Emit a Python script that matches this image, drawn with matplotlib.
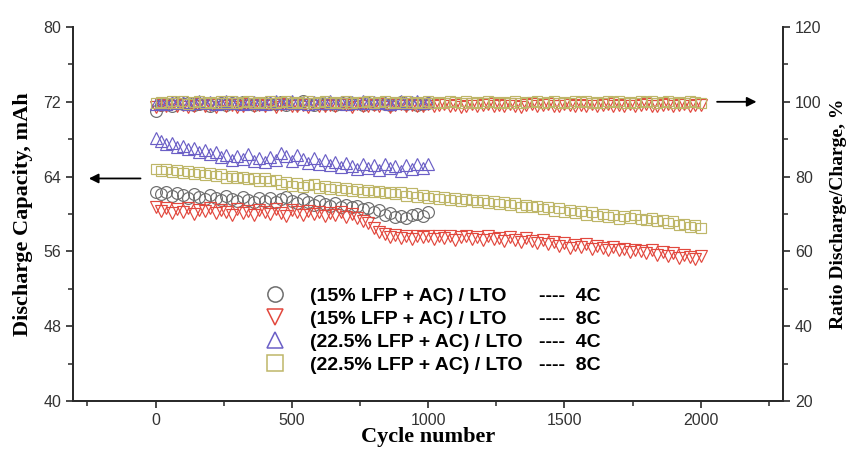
import matplotlib
matplotlib.use("Agg")
import matplotlib.pyplot as plt
import numpy as np
from matplotlib.lines import Line2D
from matplotlib.ticker import MultipleLocator

# ---- data (every 20 cycles) ----
cycles_1000 = np.arange(0, 1001, 20)
cycles_2000 = np.arange(0, 2001, 20)

cap_15_4c = [
    62.4, 62.1, 62.3, 61.9, 62.2, 62.0, 61.7, 62.1, 61.8, 61.6,
    62.0, 61.7, 61.5, 61.9, 61.6, 61.4, 61.8, 61.5, 61.3, 61.7,
    61.4, 61.7, 61.3, 61.6, 61.8, 61.4, 61.2, 61.6, 61.3, 61.0,
    61.4, 61.1, 60.9, 61.2, 60.8, 61.0, 60.7, 60.9, 60.5, 60.6,
    60.2, 60.4, 59.9, 60.1, 59.7, 59.8, 59.6, 59.9, 60.0, 59.8, 60.2,
]
cap_15_8c = [
    60.7, 60.3, 60.6, 60.1, 60.5, 60.2, 60.6, 60.0, 60.4, 60.3,
    60.6, 60.1, 60.4, 60.2, 59.9, 60.5, 60.1, 60.3, 59.9, 60.4,
    60.2, 60.0, 60.5, 60.1, 59.8, 60.4, 60.2, 59.9, 60.3, 60.0,
    60.2, 59.8, 60.1, 59.9, 60.2, 59.7, 60.0, 59.6, 59.3, 59.0,
    58.5, 58.1, 57.9, 57.5, 57.8, 57.4, 57.6, 57.3, 57.7, 57.5,
    57.6, 57.3, 57.7, 57.4, 57.6, 57.2, 57.5, 57.7, 57.3, 57.5,
    57.2, 57.6, 57.3, 57.4, 57.1, 57.5, 57.2, 57.0, 57.4, 57.1,
    56.9, 57.2, 56.8, 57.0, 56.6, 56.9, 56.4, 56.7, 56.5, 56.8,
    56.3, 56.6, 56.4, 56.2, 56.5, 56.1, 56.3, 55.9, 56.2, 56.0,
    55.8, 56.1, 55.6, 55.9, 55.5, 55.8, 55.3, 55.6, 55.4, 55.2, 55.5,
]
cap_22_4c = [
    68.1, 67.8, 67.5, 67.6, 67.2, 67.3, 66.9, 67.1, 66.6, 66.8,
    66.4, 66.6, 66.1, 66.3, 65.8, 66.2, 65.9, 66.4, 65.7, 66.0,
    65.6, 66.1, 65.8, 66.5, 66.2, 65.7, 66.3, 65.9, 65.5, 66.0,
    65.4, 65.8, 65.2, 65.6, 65.0, 65.5, 65.1, 64.8, 65.4, 64.9,
    65.2, 64.7, 65.3, 64.9, 65.1, 64.6, 65.2, 64.8, 65.4, 64.9, 65.3,
]
cap_22_8c = [
    64.8, 64.6, 64.8, 64.5, 64.7, 64.4, 64.6, 64.3, 64.5, 64.2,
    64.4, 64.1, 64.3, 63.9, 64.1, 63.8, 64.0, 63.7, 63.9, 63.5,
    63.8, 63.5, 63.6, 63.2, 63.4, 63.0, 63.3, 62.9, 63.1, 63.2,
    62.8, 63.0, 62.7, 62.9, 62.6, 62.8, 62.5, 62.7, 62.4, 62.6,
    62.3, 62.5, 62.2, 62.4, 62.1, 62.3, 61.9, 62.2, 61.8, 62.0,
    61.7, 61.9, 61.6, 61.8, 61.5, 61.7, 61.4, 61.6, 61.5, 61.3,
    61.5, 61.2, 61.4, 61.1, 61.3, 61.0, 61.2, 60.8, 61.0, 60.7,
    60.9, 60.5, 60.7, 60.3, 60.6, 60.2, 60.4, 60.1, 60.3, 59.9,
    60.2, 59.8, 60.0, 59.7, 59.9, 59.5, 59.8, 59.6, 59.9, 59.5,
    59.4, 59.6, 59.2, 59.4, 59.0, 59.2, 58.8, 58.9, 58.6, 58.8, 58.5,
]

ratio_15_4c = [
    97.6, 99.2, 99.5, 98.9, 99.6, 99.3, 99.8, 99.1, 99.4, 99.7,
    99.0, 99.5, 99.8, 99.2, 99.6, 99.3, 99.9, 99.4, 99.1, 99.6,
    99.8, 99.3, 99.5, 99.9, 99.2, 99.6, 99.4, 100.1, 99.5, 99.2,
    99.7, 99.4, 99.8, 99.1, 99.5, 99.9, 99.3, 99.6, 99.2, 99.7,
    99.4, 99.8, 99.5, 99.1, 99.6, 99.9, 99.3, 99.7, 99.2, 99.5, 99.8,
]
ratio_15_8c = [
    98.6, 99.1, 98.8, 99.3, 98.9, 99.2, 98.7, 99.0, 99.4, 98.8,
    99.1, 98.7, 99.3, 98.9, 99.2, 98.6, 99.0, 99.3, 98.8, 99.1,
    98.9, 99.4, 98.7, 99.1, 99.3, 98.8, 99.0, 99.2, 98.7, 99.3,
    99.0, 98.8, 99.2, 98.9, 99.4, 99.1, 98.7, 99.3, 99.0, 98.8,
    99.2, 98.9, 99.3, 98.7, 99.1, 99.4, 98.9, 99.2, 98.8, 99.0,
    99.3, 98.8, 99.1, 99.4, 98.9, 99.2, 98.7, 99.0, 99.3, 98.9,
    99.1, 99.4, 98.8, 99.2, 98.9, 99.3, 99.0, 98.7, 99.2, 99.4,
    98.9, 99.1, 99.3, 98.8, 99.0, 99.4, 99.1, 98.8, 99.2, 99.0,
    99.3, 98.9, 99.1, 99.4, 98.8, 99.2, 99.0, 99.3, 98.9, 99.1,
    99.4, 99.0, 98.8, 99.2, 99.3, 98.9, 99.1, 99.4, 99.0, 99.2, 99.1,
]
ratio_22_4c = [
    99.3, 99.8, 99.5, 100.0, 99.6, 99.9, 99.4, 99.7, 100.1, 99.6,
    99.9, 99.5, 99.8, 100.2, 99.6, 99.9, 99.4, 99.8, 100.0, 99.7,
    99.5, 99.9, 100.1, 99.6, 99.8, 100.3, 99.7, 99.9, 99.5, 100.0,
    99.8, 99.6, 100.1, 99.7, 99.9, 99.5, 100.0, 99.8, 100.2, 99.6,
    99.9, 99.7, 100.0, 99.5, 99.8, 100.1, 99.7, 99.9, 100.2, 99.8, 100.0,
]
ratio_22_8c = [
    99.6, 100.0, 99.7, 100.2, 99.8, 100.1, 99.5, 99.9, 100.2, 99.7,
    100.0, 99.6, 100.1, 99.8, 100.3, 99.7, 99.9, 100.1, 99.6, 100.0,
    99.8, 100.2, 99.7, 99.9, 100.1, 99.6, 100.0, 99.8, 100.2, 99.7,
    99.9, 100.1, 99.6, 100.0, 99.8, 100.2, 99.7, 100.0, 99.9, 100.1,
    99.7, 99.9, 100.2, 99.8, 100.0, 99.6, 100.1, 99.8, 100.0, 99.7,
    100.1, 99.8, 100.0, 99.7, 100.2, 99.9, 99.6, 100.1, 99.8, 100.0,
    99.7, 100.2, 99.9, 99.6, 100.0, 99.8, 100.1, 99.7, 100.0, 99.9,
    100.2, 99.7, 99.9, 100.1, 99.8, 100.0, 99.6, 100.1, 99.9, 100.2,
    99.8, 100.0, 99.7, 100.1, 99.9, 100.2, 99.8, 100.0, 99.6, 100.1,
    99.9, 100.2, 99.7, 100.0, 100.1, 99.8, 100.0, 99.7, 100.1, 99.9, 99.8,
]

legend_names = [
    "(15% LFP + AC) / LTO",
    "(15% LFP + AC) / LTO",
    "(22.5% LFP + AC) / LTO",
    "(22.5% LFP + AC) / LTO",
]
legend_rates = ["----  4C", "----  8C", "----  4C", "----  8C"]

# ---- styling ----
GRAY = "#6e6e6e"
RED = "#e2483e"
BLUE = "#6b5fc6"
OLIVE = "#beb668"
SANS = "Liberation Sans"
SERIF = "Liberation Serif"

plt.rcParams["font.family"] = SANS

fig = plt.figure(figsize=(8.55, 4.53), dpi=100)
ax = fig.add_axes([73 / 855, 1 - 401 / 453, 710 / 855, 374 / 453])
ax2 = ax.twinx()

series = [
    (cycles_1000, cap_15_4c, ratio_15_4c, "o", GRAY),
    (cycles_2000, cap_15_8c, ratio_15_8c, "v", RED),
    (cycles_1000, cap_22_4c, ratio_22_4c, "^", BLUE),
    (cycles_2000, cap_22_8c, ratio_22_8c, "s", OLIVE),
]
for x, cap, ratio, m, c in series:
    ms = 7.5 if m == "s" else 8.5
    ax.plot(x, cap, linestyle="none", marker=m, ms=ms, mfc="none",
            mec=c, mew=0.85)
    ax2.plot(x, ratio, linestyle="none", marker=m, ms=ms, mfc="none",
             mec=c, mew=0.85)

ax.set_xlim(-303, 2302)
ax.set_ylim(40, 80)
ax2.set_ylim(20, 120)

ax.xaxis.set_major_locator(MultipleLocator(500))
ax.xaxis.set_minor_locator(MultipleLocator(250))
ax.yaxis.set_major_locator(MultipleLocator(8))
ax.yaxis.set_minor_locator(MultipleLocator(4))
ax2.yaxis.set_major_locator(MultipleLocator(20))
ax2.yaxis.set_minor_locator(MultipleLocator(10))

for a in (ax, ax2):
    a.spines["top"].set_visible(False)
    for s in a.spines.values():
        s.set_linewidth(1.3)
        s.set_color("#2a2a2a")
    a.tick_params(which="major", direction="out", length=5, width=1.2,
                  color="#2a2a2a", labelsize=11.5, labelcolor="#333333")
    a.tick_params(which="minor", direction="out", length=3.5, width=1.1,
                  color="#2a2a2a")

ax.set_xlabel("Cycle number", family=SERIF, weight="bold", fontsize=16)
ax.set_ylabel("Discharge Capacity, mAh", family=SERIF, weight="bold",
              fontsize=16)
ax2.set_ylabel("Ratio Discharge/Charge, %", family=SERIF, weight="bold",
               fontsize=14)
ax.xaxis.set_label_coords(0.5, -0.07)
ax.yaxis.set_label_coords(-0.057, 0.5)
ax2.yaxis.set_label_coords(1.066, 0.5)

# arrows pointing to the relevant axis
arrow = dict(arrowstyle="-|>", color="black", lw=1.3, mutation_scale=14)
ax.annotate("", xy=(-255, 63.8), xytext=(-45, 63.8), arrowprops=arrow)
ax2.annotate("", xy=(2215, 100), xytext=(2050, 100), arrowprops=arrow)

# legend in two columns: names with markers, then rates
handles = [
    Line2D([], [], linestyle="none", marker=m, ms=11, mfc="none", mec=c,
           mew=1.1)
    for _, _, _, m, c in series
]
leg_font = dict(family=SANS, weight="bold", size=14)
leg1 = ax.legend(handles, legend_names, loc="upper left",
                 bbox_to_anchor=(0.271, 0.305), frameon=False, prop=leg_font,
                 handlelength=1.0, handletextpad=1.3, labelspacing=0.28,
                 borderpad=0, borderaxespad=0)
ax.add_artist(leg1)
blank = [Line2D([], [], linestyle="none") for _ in legend_rates]
ax.legend(blank, legend_rates, loc="upper left",
          bbox_to_anchor=(0.657, 0.305), frameon=False, prop=leg_font,
          handlelength=0, handletextpad=0, labelspacing=0.28,
          borderpad=0, borderaxespad=0)

fig.savefig("out.png", dpi=100)
